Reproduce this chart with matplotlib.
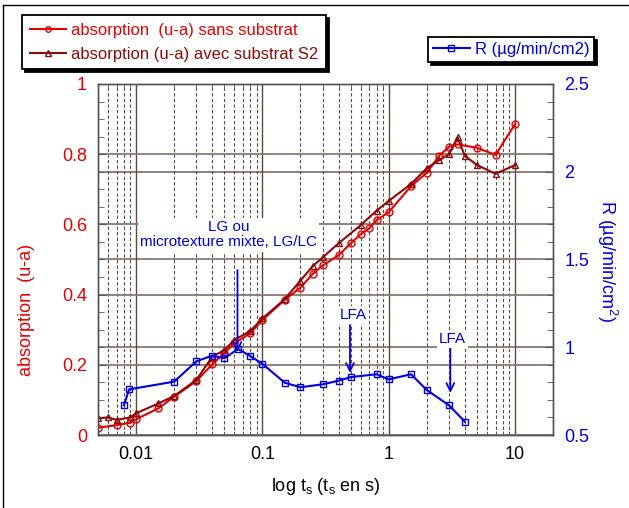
import matplotlib
matplotlib.use("Agg")
from matplotlib import pyplot as plt
from matplotlib.lines import Line2D
from matplotlib.ticker import FuncFormatter, MultipleLocator, LogLocator, NullFormatter
import numpy as np

plt.rcParams['font.family'] = ['Liberation Sans', 'DejaVu Sans']
plt.rcParams['mathtext.default'] = 'regular'

"""
Data read from the chart
"""
# absorption (u-a) sans substrat
t_sans = [0.005, 0.007, 0.009, 0.01, 0.015, 0.02, 0.03, 0.04, 0.05, 0.06, 0.08, 0.1,
          0.15, 0.2, 0.25, 0.3, 0.4, 0.5, 0.6, 0.7, 0.8, 1.0, 1.5, 2.0, 2.5, 3.0, 3.5,
          5.0, 7.0, 10.0]
abs_sans = [0.021, 0.028, 0.035, 0.045, 0.076, 0.109, 0.154, 0.201, 0.234, 0.261, 0.29, 0.328,
            0.385, 0.42, 0.459, 0.483, 0.512, 0.546, 0.572, 0.589, 0.612, 0.635, 0.709, 0.747,
            0.795, 0.821, 0.828, 0.818, 0.798, 0.886]

# absorption (u-a) avec substrat S2
t_avec = [0.005, 0.006, 0.007, 0.009, 0.01, 0.015, 0.02, 0.03, 0.04, 0.05, 0.06, 0.08, 0.1,
          0.15, 0.2, 0.25, 0.3, 0.4, 0.6, 0.8, 1.0, 1.5, 2.0, 2.5, 3.0, 3.5, 4.0, 5.0,
          7.0, 10.0]
abs_avec = [0.048, 0.050, 0.043, 0.050, 0.062, 0.090, 0.111, 0.157, 0.223, 0.242, 0.271, 0.296,
            0.332, 0.387, 0.44, 0.481, 0.506, 0.546, 0.598, 0.639, 0.667, 0.715, 0.760, 0.783,
            0.80, 0.848, 0.795, 0.769, 0.744, 0.769]

# R (ug/min/cm2)
t_R = [0.008, 0.0088, 0.02, 0.03, 0.04, 0.05, 0.064, 0.08, 0.1, 0.15, 0.2, 0.3, 0.4, 0.5,
       0.8, 1.0, 1.5, 2.0, 3.0, 4.0]
R = [0.669, 0.760, 0.804, 0.92, 0.952, 0.937, 0.99, 0.95, 0.905, 0.798, 0.772, 0.789, 0.809,
     0.830, 0.846, 0.817, 0.846, 0.756, 0.669, 0.576]

x_ticks = [0.01, 0.1, 1, 10]
left_ticks = [0, 0.2, 0.4, 0.6, 0.8, 1]
right_ticks = [0.5, 1, 1.5, 2, 2.5]

red = "#e60000"
brown = "#8b0a0a"
blue = "#0000e0"
gridcol = "#8a7a70"

"""
Figure
"""
fig = plt.figure(figsize=(6.29, 5.08), dpi=100)
ax1 = fig.add_axes([0.156, 0.1437, 0.7234, 0.691])
ax2 = ax1.twinx()

l1, = ax1.plot(t_sans, abs_sans, color=red, lw=1.5, marker='o', ms=5, mfc='none', mew=1,
               label="absorption  (u-a) sans substrat")
l2, = ax1.plot(t_avec, abs_avec, color=brown, lw=1.5, marker='^', ms=5, mfc='none', mew=1,
               label="absorption (u-a) avec substrat S2")
l3, = ax2.plot(t_R, R, color=blue, lw=1.5, marker='s', ms=5, mfc='none', mew=1,
               label="R (µg/min/cm2)")

ax1.set_xscale('log')
ax1.set_xlim(0.005, 20)
ax1.set_ylim(0, 1)
ax2.set_ylim(0.5, 2.5)

# ticks
fmt = FuncFormatter(lambda v, p: "%g" % v)
ax1.set_xticks(x_ticks)
ax1.xaxis.set_major_formatter(fmt)
ax1.xaxis.set_minor_locator(LogLocator(base=10, subs=np.arange(2, 10)))
ax1.xaxis.set_minor_formatter(NullFormatter())
ax1.set_yticks(left_ticks)
ax1.yaxis.set_major_formatter(fmt)
ax1.yaxis.set_minor_locator(MultipleLocator(0.05))
ax2.set_yticks(right_ticks)
ax2.yaxis.set_major_formatter(fmt)
ax2.yaxis.set_minor_locator(MultipleLocator(0.1))

ax1.tick_params(axis='x', which='both', direction='in', top=True, labelsize=13, pad=8, colors='#555555', labelcolor='black')
ax1.tick_params(axis='x', which='major', length=6)
ax1.tick_params(axis='x', which='minor', length=3)
ax1.tick_params(axis='y', which='both', direction='in', labelsize=13, pad=8, colors='#555555', labelcolor=red)
ax1.tick_params(axis='y', which='major', length=6)
ax1.tick_params(axis='y', which='minor', length=4)
ax2.tick_params(axis='y', which='both', direction='in', labelsize=13, pad=8, colors='#555555', labelcolor=blue)
ax2.tick_params(axis='y', which='major', length=6)
ax2.tick_params(axis='y', which='minor', length=4)

for a in (ax1, ax2):
    for s in a.spines.values():
        s.set_color('#555555')
        s.set_linewidth(1)

# grid
ax1.grid(True, axis='x', which='major', color='#5a4a42', lw=1, ls='-')
ax1.grid(True, axis='x', which='minor', color='#5a4a42', lw=0.8, ls=(0, (3, 2)))
ax1.grid(True, axis='y', which='major', color=gridcol, lw=1.3, ls='-')
for r in right_ticks[1:-1]:
    ax1.axhline((r - 0.5) / 2.0, color=gridcol, lw=1.3, zorder=0.5)

# labels
ax1.set_xlabel("log t$_s$ (t$_s$ en s)", fontsize=13, labelpad=9)
ax1.set_ylabel("absorption  (u-a)", fontsize=13, color=red)
ax1.yaxis.set_label_coords(-0.139, 0.356)
ax2.set_ylabel("R (µg/min/cm$^2$)", fontsize=13, color=blue, rotation=270, va='center')
ax2.yaxis.set_label_coords(1.118, 0.496)

# annotations
box = dict(fc='white', ec='none', pad=1.5)
ax1.text(0.054, 0.57, "LG ou\nmicrotexture mixte, LG/LC", color=blue, fontsize=11,
         ha='center', va='center', multialignment='center', linespacing=1.1, bbox=box, zorder=4)
ax1.text(0.52, 0.342, "LFA", color=blue, fontsize=11, ha='center', va='center', bbox=box, zorder=4)
ax1.text(3.18, 0.274, "LFA", color=blue, fontsize=11, ha='center', va='center', bbox=box, zorder=4)
arrow = dict(arrowstyle='->', color=blue, lw=1.3, shrinkA=0, shrinkB=0, mutation_scale=14)
ax1.annotate("", xy=(0.0634, 0.237), xytext=(0.0634, 0.47), arrowprops=arrow)
ax1.annotate("", xy=(0.493, 0.177), xytext=(0.493, 0.313), arrowprops=arrow)
ax1.annotate("", xy=(3.07, 0.12), xytext=(3.07, 0.251), arrowprops=arrow)

# legends
shadow = {'color': 'black', 'alpha': 1}
leg1 = fig.legend(handles=[l1, l2], loc='upper left', bbox_to_anchor=(22 / 629, 1 - 15 / 508),
                  fontsize=12, frameon=True, fancybox=False, shadow=shadow, edgecolor='black',
                  framealpha=1, borderaxespad=0, handlelength=2.2, handletextpad=0.3,
                  labelspacing=0.55, borderpad=0.45, markerscale=0.8, labelcolor='linecolor')
leg1.get_frame().set_linewidth(1.3)
leg2 = fig.legend(handles=[l3], loc='upper left', bbox_to_anchor=(428 / 629, 1 - 37 / 508),
                  fontsize=12, frameon=True, fancybox=False, shadow=shadow, edgecolor='black',
                  framealpha=1, borderaxespad=0, handlelength=2.2, handletextpad=0.3,
                  borderpad=0.3, markerscale=0.8, labelcolor='linecolor')
leg2.get_frame().set_linewidth(1.3)

# outer frame
fig.add_artist(Line2D([3 / 629, 3 / 629], [0, 1 - 5 / 508], transform=fig.transFigure, color='black', lw=1))
fig.add_artist(Line2D([3 / 629, 1], [1 - 5 / 508, 1 - 5 / 508], transform=fig.transFigure, color='black', lw=1))

fig.savefig("out.png", dpi=100)
